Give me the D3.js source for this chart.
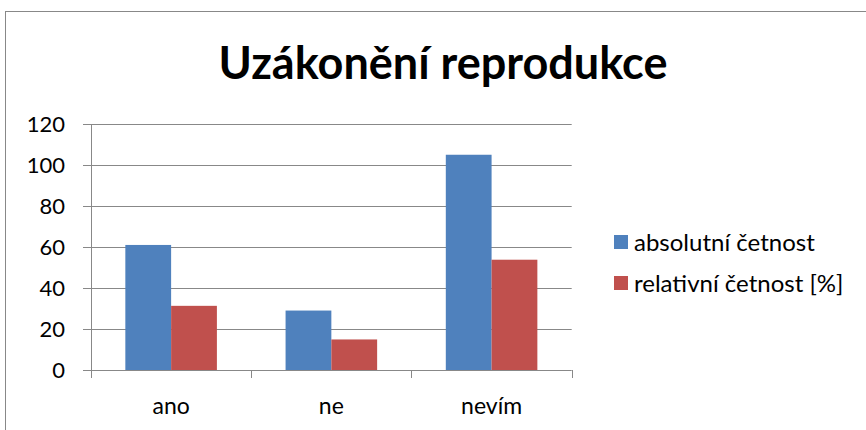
<!DOCTYPE html>
<html>
<head>
<meta charset="utf-8">
<script src="https://cdn.jsdelivr.net/npm/d3@7"></script>
<style>
  body { margin: 0; background: #fff; }
  text { font-family: Lato, "Open Sans", sans-serif; fill: #000; }
</style>
</head>
<body>
<div id="chart"></div>
<script>
var categories = ["ano", "ne", "nevím"];
var seriesNames = ["absolutní četnost", "relativní četnost [%]"];
var absolutni = [61, 29, 105];
var relativni = [31.3, 14.9, 53.8];
var yTicks = [0, 20, 40, 60, 80, 100, 120];
var colors = ["#4F81BD", "#C0504D"];

var w = 866;
var h = 430;

var svg = d3.select("#chart")
            .append("svg")
            .attr("width", w)
            .attr("height", h);

// chart frame
svg.append("rect")
   .attr("x", 5.5)
   .attr("y", 11.5)
   .attr("width", 880)
   .attr("height", 440)
   .attr("fill", "none")
   .attr("stroke", "#888");

svg.append("text")
   .attr("x", 443)
   .attr("y", 79)
   .attr("text-anchor", "middle")
   .style("font-size", "45px")
   .style("font-weight", "bold")
   .text("Uzákonění reprodukce");

var x0 = d3.scaleBand()
           .domain(categories)
           .range([91, 571.7])
           .paddingInner(0)
           .paddingOuter(0);

var x1 = d3.scaleBand()
           .domain(d3.range(seriesNames.length))
           .range([0, x0.bandwidth()])
           .paddingInner(0)
           .paddingOuter(0.75);

var yScale = d3.scaleLinear()
               .domain([0, 120])
               .range([370, 124]);

// gridlines
svg.append("g")
   .selectAll("line")
   .data(yTicks)
   .enter()
   .append("line")
   .attr("x1", 83)
   .attr("x2", 571.7)
   .attr("y1", function(d) { return Math.round(yScale(d)) + 0.5; })
   .attr("y2", function(d) { return Math.round(yScale(d)) + 0.5; })
   .attr("stroke", "#888")
   .attr("stroke-width", 1);

// y axis line
svg.append("line")
   .attr("x1", 91.5).attr("x2", 91.5)
   .attr("y1", yScale(120)).attr("y2", 378)
   .attr("stroke", "#888");

// x axis ticks at category boundaries
var bounds = categories.map(function(c) { return x0(c) + x0.bandwidth(); });
svg.append("g")
   .selectAll("line")
   .data(bounds)
   .enter()
   .append("line")
   .attr("x1", function(d) { return Math.round(d) + 0.5; })
   .attr("x2", function(d) { return Math.round(d) + 0.5; })
   .attr("y1", 370)
   .attr("y2", 378)
   .attr("stroke", "#888");

// y tick labels
svg.append("g")
   .selectAll("text")
   .data(yTicks)
   .enter()
   .append("text")
   .attr("x", 65)
   .attr("y", function(d) { return yScale(d); })
   .attr("dy", "0.36em")
   .attr("text-anchor", "end")
   .style("font-size", "22px")
   .text(function(d) { return d; });

// category labels
svg.append("g")
   .selectAll("text")
   .data(categories)
   .enter()
   .append("text")
   .attr("x", function(d) { return x0(d) + x0.bandwidth() / 2; })
   .attr("y", 414)
   .attr("text-anchor", "middle")
   .style("font-size", "23px")
   .text(function(d) { return d; });

// bars
var values = [absolutni, relativni];
values.forEach(function(series, s) {
    svg.append("g")
       .selectAll("rect")
       .data(series)
       .enter()
       .append("rect")
       .attr("x", function(d, i) { return x0(categories[i]) + x1(s); })
       .attr("y", function(d) { return yScale(d); })
       .attr("width", x1.bandwidth())
       .attr("height", function(d) { return yScale(0) - yScale(d); })
       .attr("fill", colors[s]);
});

// legend
var legend = svg.append("g")
                .selectAll("g")
                .data(seriesNames)
                .enter()
                .append("g")
                .attr("transform", function(d, i) { return "translate(614," + (242 + i * 41) + ")"; });

legend.append("rect")
      .attr("x", 0)
      .attr("y", -7)
      .attr("width", 14)
      .attr("height", 14)
      .attr("fill", function(d, i) { return colors[i]; });

legend.append("text")
      .attr("x", 20)
      .attr("y", 0)
      .attr("dy", "0.36em")
      .style("font-size", "24px")
      .text(function(d) { return d; });
</script>
</body>
</html>
